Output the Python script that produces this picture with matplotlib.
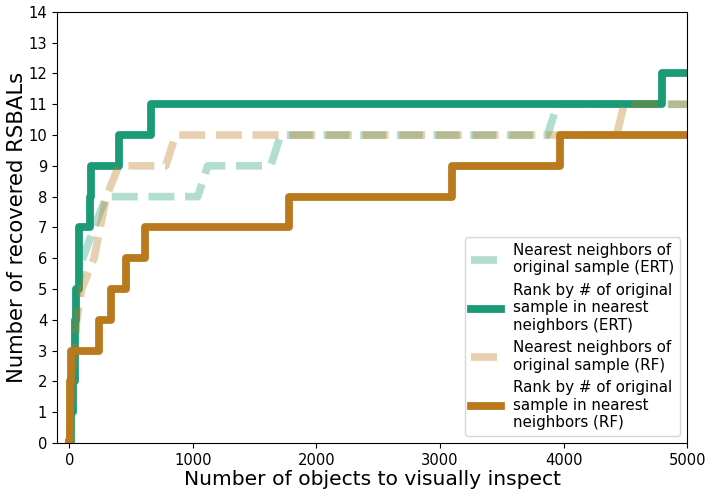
import matplotlib
matplotlib.use("Agg")
import matplotlib.pyplot as plt

# ERT: nearest neighbors of original sample (dashed)
nn_ert_x = [0, 20, 40, 70, 110, 200, 300, 1040, 1120, 1630, 1710, 3870, 3950, 5100]
nn_ert_y = [0, 1, 3, 5, 6, 7, 8, 8, 9, 9, 10, 10, 11, 11]

# ERT: rank by # of original sample in nearest neighbors (solid, step)
rank_ert_x = [0, 16, 30, 43, 57, 78, 164, 172, 400, 662, 4796, 5100]
rank_ert_y = [0, 1, 2, 4, 5, 7, 8, 9, 10, 11, 12, 12]

# RF: nearest neighbors of original sample (dashed)
nn_rf_x = [0, 30, 60, 100, 200, 300, 400, 780, 860, 4430, 4490, 5100]
nn_rf_y = [0, 2, 4, 5, 6, 8, 9, 9, 10, 10, 11, 11]

# RF: rank by # of original sample in nearest neighbors (solid, step)
rank_rf_x = [0, 3, 8, 16, 240, 340, 460, 616, 1780, 3100, 3975, 5100]
rank_rf_y = [0, 1, 2, 3, 4, 5, 6, 7, 8, 9, 10, 10]

labels = [
    "Nearest neighbors of\noriginal sample (ERT)",
    "Rank by # of original\nsample in nearest\nneighbors (ERT)",
    "Nearest neighbors of\noriginal sample (RF)",
    "Rank by # of original\nsample in nearest\nneighbors (RF)",
]

green = "#1b9a76"
brown = "#b9791c"

fig = plt.figure(figsize=(7.12, 4.96), dpi=100)
ax = fig.add_axes([0.080, 0.107, 0.885, 0.869])

ax.plot(nn_ert_x, nn_ert_y, color=green, alpha=0.33, lw=5.5, ls=(0, (3.4, 1.4)),
        label=labels[0])
ax.step(rank_ert_x, rank_ert_y, where="post", color=green, lw=5.6,
        label=labels[1])
ax.plot(nn_rf_x, nn_rf_y, color=brown, alpha=0.35, lw=5.5, ls=(0, (3.4, 1.4)),
        label=labels[2])
ax.step(rank_rf_x, rank_rf_y, where="post", color=brown, lw=5.6,
        label=labels[3])

ax.set_xlim(-100, 5000)
ax.set_ylim(0, 14)
ax.set_xticks([0, 1000, 2000, 3000, 4000, 5000])
ax.set_yticks(range(0, 15))
ax.tick_params(labelsize=10.6)
ax.set_xlabel("Number of objects to visually inspect", fontsize=14.6, labelpad=2)
ax.set_ylabel("Number of recovered RSBALs", fontsize=15.2, labelpad=1)

ax.legend(loc="lower right", fontsize=10.9, borderaxespad=0.45)

fig.savefig("out.png", dpi=100)
